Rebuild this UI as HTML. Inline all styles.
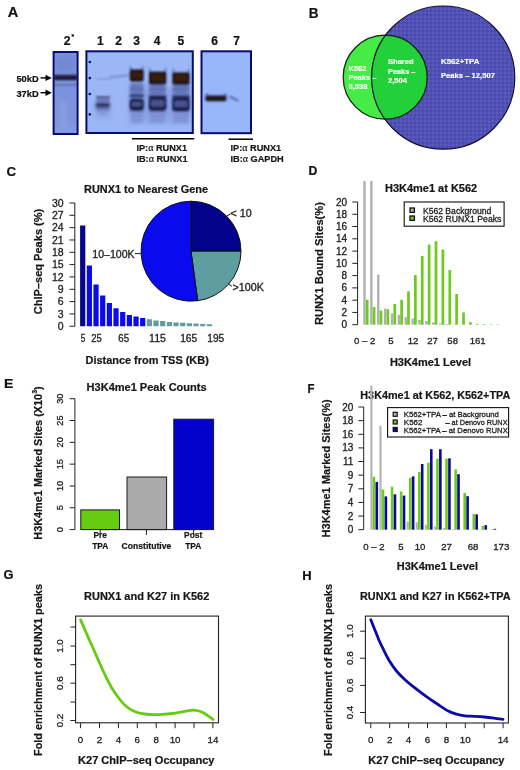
<!DOCTYPE html>
<html><head><meta charset="utf-8"><title>Figure</title>
<style>
html,body{margin:0;padding:0;background:#fff;}
body{width:520px;height:770px;overflow:hidden;}
svg{display:block;font-family:"Liberation Sans", sans-serif;will-change:transform;}
</style></head><body>
<svg width="520" height="770" viewBox="0 0 520 770">
<rect width="520" height="770" fill="#fff"/>
<text x="7.70" y="16.70" font-size="14.6" font-weight="bold" stroke="#111" stroke-width="0.2" text-anchor="start" fill="#111" textLength="10.60" lengthAdjust="spacingAndGlyphs">A</text>
<text x="63.80" y="45.00" font-size="12.2" font-weight="bold" stroke="#111" stroke-width="0.2" text-anchor="start" fill="#111">2</text>
<text x="71.40" y="39.20" font-size="6.5" font-weight="bold" stroke="#111" stroke-width="0.2" text-anchor="start" fill="#111">*</text>
<text x="100.40" y="45.20" font-size="12" font-weight="bold" stroke="#111" stroke-width="0.2" text-anchor="middle" fill="#111">1</text>
<text x="118.50" y="45.20" font-size="12" font-weight="bold" stroke="#111" stroke-width="0.2" text-anchor="middle" fill="#111">2</text>
<text x="136.50" y="45.20" font-size="12" font-weight="bold" stroke="#111" stroke-width="0.2" text-anchor="middle" fill="#111">3</text>
<text x="157.00" y="45.20" font-size="12" font-weight="bold" stroke="#111" stroke-width="0.2" text-anchor="middle" fill="#111">4</text>
<text x="180.80" y="45.20" font-size="12" font-weight="bold" stroke="#111" stroke-width="0.2" text-anchor="middle" fill="#111">5</text>
<text x="214.60" y="45.20" font-size="12" font-weight="bold" stroke="#111" stroke-width="0.2" text-anchor="middle" fill="#111">6</text>
<text x="236.50" y="45.20" font-size="12" font-weight="bold" stroke="#111" stroke-width="0.2" text-anchor="middle" fill="#111">7</text>
<text x="16.40" y="82.20" font-size="9.6" font-weight="bold" stroke="#111" stroke-width="0.2" text-anchor="start" fill="#111" textLength="22.20" lengthAdjust="spacingAndGlyphs">50kD</text>
<text x="16.40" y="96.70" font-size="9.6" font-weight="bold" stroke="#111" stroke-width="0.2" text-anchor="start" fill="#111" textLength="22.20" lengthAdjust="spacingAndGlyphs">37kD</text>
<line x1="40.50" y1="77.90" x2="47.00" y2="77.90" stroke="#000" stroke-width="1.4"/>
<path d="M45.5 74.70 L51.8 77.90 L45.5 81.10 Z" fill="#000"/>
<line x1="40.50" y1="92.70" x2="47.00" y2="92.70" stroke="#000" stroke-width="1.4"/>
<path d="M45.5 89.50 L51.8 92.70 L45.5 95.90 Z" fill="#000"/>
<defs><filter id="bl1" x="-20%" y="-50%" width="140%" height="200%"><feGaussianBlur stdDeviation="0.9"/></filter><filter id="bl2" x="-20%" y="-50%" width="140%" height="200%"><feGaussianBlur stdDeviation="1.6"/></filter><filter id="bl3" x="-20%" y="-20%" width="140%" height="140%"><feGaussianBlur stdDeviation="3"/></filter><clipPath id="cp2"><rect x="53.6" y="52" width="24" height="82"/></clipPath><clipPath id="cp15"><rect x="86.4" y="51.3" width="106.4" height="81.7"/></clipPath><clipPath id="cp67"><rect x="201.5" y="51.3" width="49.5" height="81.9"/></clipPath></defs>
<rect x="53.60" y="52.00" width="24.00" height="82.00" fill="#8199e0"/>
<g clip-path="url(#cp2)">
<g filter="url(#bl3)">
<rect x="54.00" y="53.00" width="23.00" height="20.00" fill="#7089d2"/>
<rect x="54.00" y="84.00" width="23.00" height="40.00" fill="#7a92dc"/>
<rect x="60.00" y="100.00" width="6.00" height="30.00" fill="#8aa0e6"/>
</g>
<g filter="url(#bl1)">
<rect x="53.60" y="75.20" width="24.00" height="5.00" fill="#1c1830"/>
<rect x="53.60" y="74.40" width="24.00" height="1.20" fill="#404070"/>
<rect x="53.60" y="83.80" width="24.00" height="2.00" fill="#5e6cb0"/>
</g></g>
<rect x="53.60" y="52.00" width="24.00" height="82.00" fill="none" stroke="#0a0a70" stroke-width="2"/>
<rect x="86.40" y="51.30" width="106.40" height="81.70" fill="#9cb7f6"/>
<g clip-path="url(#cp15)">
<g filter="url(#bl3)">
<rect x="95.00" y="100.00" width="16.00" height="18.00" fill="#8ea6e8"/>
<rect x="129.00" y="88.00" width="62.00" height="35.00" fill="#8aa2e6"/>
</g>
<circle cx="89.8" cy="62.0" r="1.3" fill="#14143a"/>
<circle cx="89.8" cy="78.1" r="1.3" fill="#14143a"/>
<circle cx="89.8" cy="94.0" r="1.3" fill="#14143a"/>
<circle cx="89.8" cy="114.4" r="1.3" fill="#14143a"/>
<g filter="url(#bl1)">
<rect x="96.50" y="78.30" width="13.00" height="1.30" fill="#8090d0"/>
<rect x="96.00" y="96.40" width="14.00" height="1.70" fill="#303a70"/>
<rect x="96.50" y="98.50" width="13.00" height="4.00" fill="#6a7ab8"/>
</g><g filter="url(#bl2)">
<rect x="95.5" y="103.0" width="14.5" height="4.6" rx="2" fill="#242a58"/>
<rect x="96.00" y="107.50" width="13.50" height="3.00" fill="#6474b8"/>
<rect x="97.00" y="112.00" width="11.00" height="2.00" fill="#8494d4"/>
</g><g filter="url(#bl1)">
<path d="M109 76.6 L129 74.2 L129 76.0 L109 78.2 Z" fill="#7585c8"/>
</g>
<g filter="url(#bl2)">
<rect x="130.00" y="83.00" width="13.50" height="30.00" fill="#6678bc"/>
<rect x="131.00" y="112.00" width="11.50" height="11.00" fill="#8093d6"/>
<rect x="148.90" y="83.00" width="16.80" height="30.00" fill="#6678bc"/>
<rect x="149.90" y="112.00" width="14.80" height="11.00" fill="#8093d6"/>
<rect x="172.40" y="83.00" width="16.90" height="30.00" fill="#6678bc"/>
<rect x="173.40" y="112.00" width="14.90" height="11.00" fill="#8093d6"/>
</g>
<g filter="url(#bl1)">
<path d="M130.0 71.6 L130.70000000000002 64.6 L131.70000000000002 71.6 Z" fill="#283064"/>
<path d="M141.7 71.6 L142.7 64.6 L143.4 71.6 Z" fill="#283064"/>
<rect x="129.8" y="69.6" width="13.799999999999983" height="12.0" rx="2.5" fill="#120e18"/>
<rect x="132.0" y="71.8" width="9.399999999999983" height="7.0" rx="1.5" fill="#3c1e10"/>
<rect x="130.30" y="88.40" width="12.80" height="1.40" fill="#5868a8"/>
<rect x="129.80" y="94.90" width="13.80" height="1.80" fill="#1a2252"/>
<rect x="129.8" y="99.0" width="13.799999999999983" height="11.200000000000003" rx="3" fill="#161c44"/>
<rect x="131.8" y="101.8" width="9.799999999999983" height="4.600000000000003" rx="1.5" fill="#46528c"/>
<rect x="131.80" y="115.00" width="9.80" height="1.40" fill="#7a8acc"/>
<path d="M149.2 73.8 L149.9 66.8 L150.9 73.8 Z" fill="#283064"/>
<path d="M164.29999999999998 73.8 L165.29999999999998 66.8 L166.0 73.8 Z" fill="#283064"/>
<rect x="149.0" y="71.8" width="17.19999999999999" height="12.400000000000006" rx="2.5" fill="#120e18"/>
<rect x="151.2" y="74.0" width="12.799999999999988" height="7.400000000000006" rx="1.5" fill="#3c1e10"/>
<rect x="149.50" y="88.40" width="16.20" height="1.40" fill="#5868a8"/>
<rect x="149.00" y="95.80" width="17.20" height="1.80" fill="#1a2252"/>
<rect x="149.0" y="97.0" width="17.19999999999999" height="13.599999999999994" rx="3" fill="#161c44"/>
<rect x="151.0" y="99.8" width="13.199999999999989" height="6.999999999999995" rx="1.5" fill="#46528c"/>
<rect x="151.00" y="115.00" width="13.20" height="1.40" fill="#7a8acc"/>
<path d="M172.6 74.4 L173.3 67.4 L174.3 74.4 Z" fill="#283064"/>
<path d="M187.6 74.4 L188.6 67.4 L189.3 74.4 Z" fill="#283064"/>
<rect x="172.4" y="72.4" width="17.099999999999994" height="12.199999999999989" rx="2.5" fill="#120e18"/>
<rect x="174.6" y="74.60000000000001" width="12.699999999999994" height="7.199999999999989" rx="1.5" fill="#3c1e10"/>
<rect x="172.90" y="88.40" width="16.10" height="1.40" fill="#5868a8"/>
<rect x="172.40" y="95.80" width="17.10" height="1.80" fill="#1a2252"/>
<rect x="172.4" y="97.6" width="17.099999999999994" height="13.400000000000006" rx="3" fill="#161c44"/>
<rect x="174.4" y="100.39999999999999" width="13.099999999999994" height="6.800000000000006" rx="1.5" fill="#46528c"/>
<rect x="174.40" y="115.00" width="13.10" height="1.40" fill="#7a8acc"/>
</g></g>
<rect x="86.40" y="51.30" width="106.40" height="81.70" fill="none" stroke="#0a0a70" stroke-width="2"/>
<rect x="201.50" y="51.30" width="49.50" height="81.90" fill="#98b6fa"/>
<g clip-path="url(#cp67)"><g filter="url(#bl1)">
<rect x="205.3" y="95.4" width="21.2" height="5.8" rx="2.5" fill="#141420"/>
<rect x="207.5" y="97.0" width="16.5" height="2.4" rx="1" fill="#2a1612"/>
<path d="M205.6 97 L206.2 93.4 L207.4 93.4 L207.6 97 Z" fill="#303a6c"/>
<path d="M224.2 97 L224.6 93.4 L225.8 93.4 L226.4 97 Z" fill="#303a6c"/>
<path d="M229.5 95.8 L238.5 100.2 L238.3 101.4 L229.3 97.0 Z" fill="#2a3870"/>
</g></g>
<rect x="201.50" y="51.30" width="49.50" height="81.90" fill="none" stroke="#0a0a70" stroke-width="2"/>
<line x1="132.00" y1="138.70" x2="194.20" y2="138.70" stroke="#000" stroke-width="1.5"/>
<line x1="228.50" y1="139.20" x2="253.00" y2="139.20" stroke="#000" stroke-width="1.5"/>
<text x="136.40" y="150.70" font-size="9.2" font-weight="bold" fill="#161616" stroke="#161616" stroke-width="0.2">IP:<tspan font-family="Liberation Serif" font-weight="normal" font-size="10">&#945;</tspan> RUNX1</text>
<text x="136.40" y="162.40" font-size="9.2" font-weight="bold" fill="#161616" stroke="#161616" stroke-width="0.2">IB:<tspan font-family="Liberation Serif" font-weight="normal" font-size="10">&#945;</tspan> RUNX1</text>
<text x="230.50" y="150.80" font-size="9.2" font-weight="bold" fill="#161616" stroke="#161616" stroke-width="0.2">IP:<tspan font-family="Liberation Serif" font-weight="normal" font-size="10">&#945;</tspan> RUNX1</text>
<text x="230.50" y="162.10" font-size="9.2" font-weight="bold" fill="#161616" stroke="#161616" stroke-width="0.2">IB:<tspan font-family="Liberation Serif" font-weight="normal" font-size="10">&#945;</tspan> GAPDH</text>
<text x="308.80" y="17.90" font-size="14.5" font-weight="bold" stroke="#111" stroke-width="0.2" text-anchor="start" fill="#111" textLength="9.80" lengthAdjust="spacingAndGlyphs">B</text>
<defs><pattern id="bgrid" width="4" height="4" patternUnits="userSpaceOnUse"><rect width="4" height="4" fill="#4a4aae"/><rect width="4" height="2" fill="#5252b6"/><rect width="2" height="4" fill="#5252b6"/><rect width="2" height="2" fill="#5a5abc"/></pattern><clipPath id="cpblue"><circle cx="443.2" cy="77.6" r="71.6"/></clipPath></defs>
<circle cx="443.2" cy="77.6" r="71.6" fill="url(#bgrid)"/>
<circle cx="385.2" cy="77.2" r="42.0" fill="#45ec45"/>
<circle cx="385.2" cy="77.2" r="42.0" fill="#24d03a" clip-path="url(#cpblue)"/>
<circle cx="443.2" cy="77.6" r="71.6" fill="none" stroke="#101030" stroke-width="1.2"/>
<circle cx="385.2" cy="77.2" r="42.0" fill="none" stroke="#102010" stroke-width="1.2"/>
<text x="348.50" y="70.90" font-size="7.8" font-weight="bold" stroke="#f4fff4" stroke-width="0.2" text-anchor="start" fill="#f4fff4" textLength="17.80" lengthAdjust="spacingAndGlyphs">K562</text>
<text x="348.50" y="80.00" font-size="7.8" font-weight="bold" stroke="#f4fff4" stroke-width="0.2" text-anchor="start" fill="#f4fff4" textLength="27.80" lengthAdjust="spacingAndGlyphs">Peaks –</text>
<text x="348.50" y="89.30" font-size="7.8" font-weight="bold" stroke="#f4fff4" stroke-width="0.2" text-anchor="start" fill="#f4fff4" textLength="19.00" lengthAdjust="spacingAndGlyphs">3,538</text>
<text x="388.00" y="64.30" font-size="7.8" font-weight="bold" stroke="#f4fff4" stroke-width="0.2" text-anchor="start" fill="#f4fff4" textLength="25.60" lengthAdjust="spacingAndGlyphs">Shared</text>
<text x="388.00" y="73.80" font-size="7.8" font-weight="bold" stroke="#f4fff4" stroke-width="0.2" text-anchor="start" fill="#f4fff4" textLength="27.40" lengthAdjust="spacingAndGlyphs">Peaks –</text>
<text x="388.00" y="82.70" font-size="7.8" font-weight="bold" stroke="#f4fff4" stroke-width="0.2" text-anchor="start" fill="#f4fff4" textLength="19.00" lengthAdjust="spacingAndGlyphs">2,504</text>
<text x="441.00" y="64.30" font-size="7.8" font-weight="bold" stroke="#f4fff4" stroke-width="0.2" text-anchor="start" fill="#f4fff4" textLength="38.40" lengthAdjust="spacingAndGlyphs">K562+TPA</text>
<text x="441.00" y="77.80" font-size="7.8" font-weight="bold" stroke="#f4fff4" stroke-width="0.2" text-anchor="start" fill="#f4fff4" textLength="54.00" lengthAdjust="spacingAndGlyphs">Peaks – 12,507</text>
<text x="6.40" y="176.40" font-size="13.5" font-weight="bold" stroke="#111" stroke-width="0.2" text-anchor="start" fill="#111" textLength="9.60" lengthAdjust="spacingAndGlyphs">C</text>
<text x="84.00" y="193.00" font-size="10.6" font-weight="bold" stroke="#161616" stroke-width="0.2" text-anchor="start" fill="#161616" textLength="124.00" lengthAdjust="spacingAndGlyphs">RUNX1 to Nearest Gene</text>
<line x1="74.80" y1="203.00" x2="74.80" y2="326.25" stroke="#222" stroke-width="1"/>
<line x1="69.50" y1="203.00" x2="74.80" y2="203.00" stroke="#222" stroke-width="1"/>
<text x="63.60" y="206.60" font-size="10.5" stroke="#222" stroke-width="0.3" text-anchor="end" fill="#222">30</text>
<line x1="69.50" y1="215.32" x2="74.80" y2="215.32" stroke="#222" stroke-width="1"/>
<text x="63.60" y="218.92" font-size="10.5" stroke="#222" stroke-width="0.3" text-anchor="end" fill="#222">27</text>
<line x1="69.50" y1="227.65" x2="74.80" y2="227.65" stroke="#222" stroke-width="1"/>
<text x="63.60" y="231.25" font-size="10.5" stroke="#222" stroke-width="0.3" text-anchor="end" fill="#222">24</text>
<line x1="69.50" y1="239.97" x2="74.80" y2="239.97" stroke="#222" stroke-width="1"/>
<text x="63.60" y="243.57" font-size="10.5" stroke="#222" stroke-width="0.3" text-anchor="end" fill="#222">21</text>
<line x1="69.50" y1="252.30" x2="74.80" y2="252.30" stroke="#222" stroke-width="1"/>
<text x="63.60" y="255.90" font-size="10.5" stroke="#222" stroke-width="0.3" text-anchor="end" fill="#222">18</text>
<line x1="69.50" y1="264.62" x2="74.80" y2="264.62" stroke="#222" stroke-width="1"/>
<text x="63.60" y="268.23" font-size="10.5" stroke="#222" stroke-width="0.3" text-anchor="end" fill="#222">15</text>
<line x1="69.50" y1="276.95" x2="74.80" y2="276.95" stroke="#222" stroke-width="1"/>
<text x="63.60" y="280.55" font-size="10.5" stroke="#222" stroke-width="0.3" text-anchor="end" fill="#222">12</text>
<line x1="69.50" y1="289.27" x2="74.80" y2="289.27" stroke="#222" stroke-width="1"/>
<text x="63.60" y="292.88" font-size="10.5" stroke="#222" stroke-width="0.3" text-anchor="end" fill="#222">9</text>
<line x1="69.50" y1="301.60" x2="74.80" y2="301.60" stroke="#222" stroke-width="1"/>
<text x="63.60" y="305.20" font-size="10.5" stroke="#222" stroke-width="0.3" text-anchor="end" fill="#222">6</text>
<line x1="69.50" y1="313.93" x2="74.80" y2="313.93" stroke="#222" stroke-width="1"/>
<text x="63.60" y="317.53" font-size="10.5" stroke="#222" stroke-width="0.3" text-anchor="end" fill="#222">3</text>
<line x1="69.50" y1="326.25" x2="74.80" y2="326.25" stroke="#222" stroke-width="1"/>
<text x="63.60" y="329.85" font-size="10.5" stroke="#222" stroke-width="0.3" text-anchor="end" fill="#222">0</text>
<text transform="translate(42.00,261.50) rotate(-90)" x="0" y="0" font-size="10.6" font-weight="bold" stroke="#161616" stroke-width="0.2" text-anchor="middle" fill="#161616" textLength="105.50" lengthAdjust="spacingAndGlyphs">ChIP–seq Peaks (%)</text>
<rect x="80.10" y="225.50" width="5.20" height="100.75" fill="#05058f"/>
<rect x="86.77" y="265.50" width="5.20" height="60.75" fill="#0a0aea"/>
<rect x="93.43" y="284.50" width="5.20" height="41.75" fill="#0a0aea"/>
<rect x="100.10" y="295.50" width="5.20" height="30.75" fill="#0a0aea"/>
<rect x="106.77" y="303.00" width="5.20" height="23.25" fill="#0a0aea"/>
<rect x="113.44" y="308.25" width="5.20" height="18.00" fill="#0a0aea"/>
<rect x="120.10" y="312.00" width="5.20" height="14.25" fill="#0a0aea"/>
<rect x="126.77" y="315.00" width="5.20" height="11.25" fill="#0a0aea"/>
<rect x="133.44" y="316.50" width="5.20" height="9.75" fill="#0a0aea"/>
<rect x="140.10" y="318.00" width="5.20" height="8.25" fill="#0a0aea"/>
<rect x="146.77" y="319.25" width="5.20" height="7.00" fill="#5f9ea0"/>
<rect x="153.44" y="320.50" width="5.20" height="5.75" fill="#5f9ea0"/>
<rect x="160.10" y="321.00" width="5.20" height="5.25" fill="#5f9ea0"/>
<rect x="166.77" y="322.00" width="5.20" height="4.25" fill="#5f9ea0"/>
<rect x="173.44" y="322.50" width="5.20" height="3.75" fill="#5f9ea0"/>
<rect x="180.10" y="322.75" width="5.20" height="3.50" fill="#5f9ea0"/>
<rect x="186.77" y="323.25" width="5.20" height="3.00" fill="#5f9ea0"/>
<rect x="193.44" y="323.50" width="5.20" height="2.75" fill="#5f9ea0"/>
<rect x="200.11" y="324.00" width="5.20" height="2.25" fill="#5f9ea0"/>
<rect x="206.77" y="324.25" width="5.20" height="2.00" fill="#5f9ea0"/>
<text x="83.05" y="341.60" font-size="10.2" stroke="#222" stroke-width="0.3" text-anchor="middle" fill="#222" textLength="4.60" lengthAdjust="spacingAndGlyphs">5</text>
<text x="96.40" y="341.60" font-size="10.2" stroke="#222" stroke-width="0.3" text-anchor="middle" fill="#222" textLength="10.50" lengthAdjust="spacingAndGlyphs">25</text>
<text x="123.75" y="341.60" font-size="10.2" stroke="#222" stroke-width="0.3" text-anchor="middle" fill="#222" textLength="10.80" lengthAdjust="spacingAndGlyphs">65</text>
<text x="157.55" y="341.60" font-size="10.2" stroke="#222" stroke-width="0.3" text-anchor="middle" fill="#222" textLength="17.00" lengthAdjust="spacingAndGlyphs">115</text>
<text x="188.65" y="341.60" font-size="10.2" stroke="#222" stroke-width="0.3" text-anchor="middle" fill="#222" textLength="17.00" lengthAdjust="spacingAndGlyphs">165</text>
<text x="215.75" y="341.60" font-size="10.2" stroke="#222" stroke-width="0.3" text-anchor="middle" fill="#222" textLength="17.00" lengthAdjust="spacingAndGlyphs">195</text>
<text x="85.50" y="363.70" font-size="11.0" font-weight="bold" stroke="#161616" stroke-width="0.2" text-anchor="start" fill="#161616" textLength="123.30" lengthAdjust="spacingAndGlyphs">Distance from TSS (KB)</text>
<path d="M191.0 251.2 L191.00 201.20 A50.0 50.0 0 0 1 241.00 251.20 Z" fill="#02028c" stroke="#111" stroke-width="1"/>
<path d="M191.0 251.2 L241.00 251.20 A50.0 50.0 0 0 1 197.70 300.75 Z" fill="#5f9ea0" stroke="#111" stroke-width="1"/>
<path d="M191.0 251.2 L197.70 300.75 A50.0 50.0 0 1 1 191.00 201.20 Z" fill="#0a0aee" stroke="#111" stroke-width="1"/>
<line x1="227.00" y1="215.80" x2="230.60" y2="213.90" stroke="#222" stroke-width="1"/>
<line x1="134.80" y1="253.60" x2="141.00" y2="253.60" stroke="#222" stroke-width="1"/>
<line x1="228.00" y1="283.70" x2="232.00" y2="286.30" stroke="#222" stroke-width="1"/>
<text x="230.60" y="216.80" font-size="10.2" stroke="#222" stroke-width="0.3" text-anchor="start" fill="#222" textLength="21.20" lengthAdjust="spacingAndGlyphs">&lt; 10</text>
<text x="92.30" y="258.20" font-size="10.2" stroke="#222" stroke-width="0.3" text-anchor="start" fill="#222" textLength="42.30" lengthAdjust="spacingAndGlyphs">10–100K</text>
<text x="232.60" y="291.00" font-size="10.2" stroke="#222" stroke-width="0.3" text-anchor="start" fill="#222" textLength="31.40" lengthAdjust="spacingAndGlyphs">&gt;100K</text>
<text x="308.40" y="174.90" font-size="13" font-weight="bold" stroke="#111" stroke-width="0.2" text-anchor="start" fill="#111" textLength="8.80" lengthAdjust="spacingAndGlyphs">D</text>
<text x="385.00" y="192.30" font-size="10.6" font-weight="bold" stroke="#161616" stroke-width="0.2" text-anchor="start" fill="#161616" textLength="92.20" lengthAdjust="spacingAndGlyphs">H3K4me1 at K562</text>
<line x1="357.60" y1="202.00" x2="357.60" y2="324.70" stroke="#222" stroke-width="1"/>
<line x1="352.30" y1="202.00" x2="357.60" y2="202.00" stroke="#222" stroke-width="1"/>
<text x="347.00" y="205.50" font-size="10.0" stroke="#222" stroke-width="0.3" text-anchor="end" fill="#222">20</text>
<line x1="352.30" y1="214.27" x2="357.60" y2="214.27" stroke="#222" stroke-width="1"/>
<text x="347.00" y="217.77" font-size="10.0" stroke="#222" stroke-width="0.3" text-anchor="end" fill="#222">18</text>
<line x1="352.30" y1="226.54" x2="357.60" y2="226.54" stroke="#222" stroke-width="1"/>
<text x="347.00" y="230.04" font-size="10.0" stroke="#222" stroke-width="0.3" text-anchor="end" fill="#222">16</text>
<line x1="352.30" y1="238.81" x2="357.60" y2="238.81" stroke="#222" stroke-width="1"/>
<text x="347.00" y="242.31" font-size="10.0" stroke="#222" stroke-width="0.3" text-anchor="end" fill="#222">14</text>
<line x1="352.30" y1="251.08" x2="357.60" y2="251.08" stroke="#222" stroke-width="1"/>
<text x="347.00" y="254.58" font-size="10.0" stroke="#222" stroke-width="0.3" text-anchor="end" fill="#222">12</text>
<line x1="352.30" y1="263.35" x2="357.60" y2="263.35" stroke="#222" stroke-width="1"/>
<text x="347.00" y="266.85" font-size="10.0" stroke="#222" stroke-width="0.3" text-anchor="end" fill="#222">10</text>
<line x1="352.30" y1="275.62" x2="357.60" y2="275.62" stroke="#222" stroke-width="1"/>
<text x="347.00" y="279.12" font-size="10.0" stroke="#222" stroke-width="0.3" text-anchor="end" fill="#222">8</text>
<line x1="352.30" y1="287.89" x2="357.60" y2="287.89" stroke="#222" stroke-width="1"/>
<text x="347.00" y="291.39" font-size="10.0" stroke="#222" stroke-width="0.3" text-anchor="end" fill="#222">6</text>
<line x1="352.30" y1="300.16" x2="357.60" y2="300.16" stroke="#222" stroke-width="1"/>
<text x="347.00" y="303.66" font-size="10.0" stroke="#222" stroke-width="0.3" text-anchor="end" fill="#222">4</text>
<line x1="352.30" y1="312.43" x2="357.60" y2="312.43" stroke="#222" stroke-width="1"/>
<text x="347.00" y="315.93" font-size="10.0" stroke="#222" stroke-width="0.3" text-anchor="end" fill="#222">2</text>
<line x1="352.30" y1="324.70" x2="357.60" y2="324.70" stroke="#222" stroke-width="1"/>
<text x="347.00" y="328.20" font-size="10.0" stroke="#222" stroke-width="0.3" text-anchor="end" fill="#222">0</text>
<text transform="translate(323.30,263.60) rotate(-90)" x="0" y="0" font-size="10.3" font-weight="bold" stroke="#161616" stroke-width="0.2" text-anchor="middle" fill="#161616" textLength="123.00" lengthAdjust="spacingAndGlyphs">RUNX1 Bound Sites(%)</text>
<rect x="363.30" y="181.00" width="2.40" height="143.70" fill="#b0b0b0"/>
<rect x="365.85" y="299.79" width="2.70" height="24.91" fill="#6ccc1c"/>
<rect x="370.18" y="181.00" width="2.40" height="143.70" fill="#b0b0b0"/>
<rect x="372.73" y="307.09" width="2.70" height="17.61" fill="#6ccc1c"/>
<rect x="377.06" y="274.58" width="2.40" height="50.12" fill="#b0b0b0"/>
<rect x="379.61" y="310.53" width="2.70" height="14.17" fill="#6ccc1c"/>
<rect x="383.94" y="308.56" width="2.40" height="16.14" fill="#b0b0b0"/>
<rect x="386.49" y="309.24" width="2.70" height="15.46" fill="#6ccc1c"/>
<rect x="390.82" y="313.41" width="2.40" height="11.29" fill="#b0b0b0"/>
<rect x="393.37" y="304.09" width="2.70" height="20.61" fill="#6ccc1c"/>
<rect x="397.70" y="314.88" width="2.40" height="9.82" fill="#b0b0b0"/>
<rect x="400.25" y="299.79" width="2.70" height="24.91" fill="#6ccc1c"/>
<rect x="404.58" y="317.15" width="2.40" height="7.55" fill="#b0b0b0"/>
<rect x="407.13" y="291.33" width="2.70" height="33.37" fill="#6ccc1c"/>
<rect x="411.46" y="318.69" width="2.40" height="6.01" fill="#b0b0b0"/>
<rect x="414.01" y="275.07" width="2.70" height="49.63" fill="#6ccc1c"/>
<rect x="418.34" y="319.91" width="2.40" height="4.79" fill="#b0b0b0"/>
<rect x="420.89" y="255.99" width="2.70" height="68.71" fill="#6ccc1c"/>
<rect x="425.22" y="321.02" width="2.40" height="3.68" fill="#b0b0b0"/>
<rect x="427.77" y="244.58" width="2.70" height="80.12" fill="#6ccc1c"/>
<rect x="432.10" y="322.31" width="2.40" height="2.39" fill="#b0b0b0"/>
<rect x="434.65" y="241.26" width="2.70" height="83.44" fill="#6ccc1c"/>
<rect x="438.98" y="323.47" width="2.40" height="1.23" fill="#b0b0b0"/>
<rect x="441.53" y="249.48" width="2.70" height="75.22" fill="#6ccc1c"/>
<rect x="445.86" y="324.09" width="2.40" height="0.61" fill="#b0b0b0"/>
<rect x="448.41" y="270.10" width="2.70" height="54.60" fill="#6ccc1c"/>
<rect x="452.74" y="324.39" width="2.40" height="0.31" fill="#b0b0b0"/>
<rect x="455.29" y="294.02" width="2.70" height="30.67" fill="#6ccc1c"/>
<rect x="459.62" y="324.52" width="2.40" height="0.18" fill="#b0b0b0"/>
<rect x="462.17" y="312.43" width="2.70" height="12.27" fill="#6ccc1c"/>
<rect x="466.50" y="324.58" width="2.40" height="0.12" fill="#b0b0b0"/>
<rect x="469.05" y="322.25" width="2.70" height="2.45" fill="#6ccc1c"/>
<rect x="475.93" y="323.96" width="2.70" height="0.74" fill="#6ccc1c"/>
<rect x="482.81" y="324.09" width="2.70" height="0.61" fill="#6ccc1c"/>
<rect x="489.69" y="324.21" width="2.70" height="0.49" fill="#6ccc1c"/>
<rect x="496.57" y="324.33" width="2.70" height="0.37" fill="#6ccc1c"/>
<rect x="404.20" y="202.00" width="99.90" height="24.20" fill="#fff" stroke="#111" stroke-width="1.1"/>
<rect x="410.00" y="208.00" width="4.40" height="4.40" fill="#b0b0b0" stroke="#111" stroke-width="1.3"/>
<rect x="410.00" y="216.00" width="4.40" height="4.40" fill="#6ccc1c" stroke="#111" stroke-width="1.3"/>
<text x="422.90" y="213.80" font-size="8.8" stroke="#222" stroke-width="0.3" text-anchor="start" fill="#222" textLength="68.40" lengthAdjust="spacingAndGlyphs">K562 Background</text>
<text x="422.90" y="221.80" font-size="8.8" stroke="#222" stroke-width="0.3" text-anchor="start" fill="#222" textLength="78.50" lengthAdjust="spacingAndGlyphs">K562 RUNX1 Peaks</text>
<text x="364.60" y="343.90" font-size="9.6" stroke="#222" stroke-width="0.3" text-anchor="middle" fill="#222">0 – 2</text>
<text x="390.90" y="343.90" font-size="9.6" stroke="#222" stroke-width="0.3" text-anchor="middle" fill="#222">5</text>
<text x="413.00" y="343.90" font-size="9.6" stroke="#222" stroke-width="0.3" text-anchor="middle" fill="#222">12</text>
<text x="432.50" y="343.90" font-size="9.6" stroke="#222" stroke-width="0.3" text-anchor="middle" fill="#222">27</text>
<text x="452.70" y="343.90" font-size="9.6" stroke="#222" stroke-width="0.3" text-anchor="middle" fill="#222">58</text>
<text x="477.70" y="343.90" font-size="9.6" stroke="#222" stroke-width="0.3" text-anchor="middle" fill="#222">161</text>
<text x="389.90" y="365.70" font-size="10.6" font-weight="bold" stroke="#161616" stroke-width="0.2" text-anchor="start" fill="#161616" textLength="81.20" lengthAdjust="spacingAndGlyphs">H3K4me1 Level</text>
<text x="4.00" y="388.40" font-size="12.8" font-weight="bold" stroke="#111" stroke-width="0.2" text-anchor="start" fill="#111" textLength="9.40" lengthAdjust="spacingAndGlyphs">E</text>
<text x="86.60" y="390.60" font-size="10.6" font-weight="bold" stroke="#161616" stroke-width="0.2" text-anchor="start" fill="#161616" textLength="120.00" lengthAdjust="spacingAndGlyphs">H3K4me1 Peak Counts</text>
<line x1="74.90" y1="398.70" x2="74.90" y2="529.60" stroke="#222" stroke-width="1"/>
<line x1="69.70" y1="398.70" x2="74.90" y2="398.70" stroke="#222" stroke-width="1"/>
<text transform="translate(62.80,398.70) rotate(-90)" x="0" y="0" font-size="9.2" stroke="#222" stroke-width="0.3" text-anchor="middle" fill="#222">30</text>
<line x1="69.70" y1="420.52" x2="74.90" y2="420.52" stroke="#222" stroke-width="1"/>
<text transform="translate(62.80,420.52) rotate(-90)" x="0" y="0" font-size="9.2" stroke="#222" stroke-width="0.3" text-anchor="middle" fill="#222">25</text>
<line x1="69.70" y1="442.33" x2="74.90" y2="442.33" stroke="#222" stroke-width="1"/>
<text transform="translate(62.80,442.33) rotate(-90)" x="0" y="0" font-size="9.2" stroke="#222" stroke-width="0.3" text-anchor="middle" fill="#222">20</text>
<line x1="69.70" y1="464.15" x2="74.90" y2="464.15" stroke="#222" stroke-width="1"/>
<text transform="translate(62.80,464.15) rotate(-90)" x="0" y="0" font-size="9.2" stroke="#222" stroke-width="0.3" text-anchor="middle" fill="#222">15</text>
<line x1="69.70" y1="485.97" x2="74.90" y2="485.97" stroke="#222" stroke-width="1"/>
<text transform="translate(62.80,485.97) rotate(-90)" x="0" y="0" font-size="9.2" stroke="#222" stroke-width="0.3" text-anchor="middle" fill="#222">10</text>
<line x1="69.70" y1="507.78" x2="74.90" y2="507.78" stroke="#222" stroke-width="1"/>
<text transform="translate(62.80,507.78) rotate(-90)" x="0" y="0" font-size="9.2" stroke="#222" stroke-width="0.3" text-anchor="middle" fill="#222">5</text>
<line x1="69.70" y1="529.60" x2="74.90" y2="529.60" stroke="#222" stroke-width="1"/>
<text transform="translate(62.80,529.60) rotate(-90)" x="0" y="0" font-size="9.2" stroke="#222" stroke-width="0.3" text-anchor="middle" fill="#222">0</text>
<text transform="translate(41.6,463.0) rotate(-90)" x="0" y="0" font-size="10.9" font-weight="bold" text-anchor="middle" fill="#161616" stroke="#161616" stroke-width="0.2">H3K4me1 Marked Sites (X10<tspan font-size="7" dy="-4.5">3</tspan><tspan dy="4.5">)</tspan></text>
<rect x="80.80" y="509.90" width="38.70" height="19.70" fill="#66cc11" stroke="#1a1a1a" stroke-width="1"/>
<rect x="127.00" y="477.00" width="39.60" height="52.60" fill="#aaaaaa" stroke="#1a1a1a" stroke-width="1"/>
<rect x="173.80" y="419.20" width="39.80" height="110.40" fill="#0202cc" stroke="#1a1a1a" stroke-width="1"/>
<line x1="100.00" y1="529.60" x2="193.70" y2="529.60" stroke="#1a1a1a" stroke-width="1"/>
<line x1="100.20" y1="529.60" x2="100.20" y2="535.00" stroke="#222" stroke-width="1"/>
<line x1="146.40" y1="529.60" x2="146.40" y2="535.00" stroke="#222" stroke-width="1"/>
<line x1="193.70" y1="529.60" x2="193.70" y2="535.00" stroke="#222" stroke-width="1"/>
<text x="100.20" y="537.90" font-size="8.4" font-weight="bold" stroke="#161616" stroke-width="0.2" text-anchor="middle" fill="#161616">Pre</text>
<text x="100.20" y="548.90" font-size="8.4" font-weight="bold" stroke="#161616" stroke-width="0.2" text-anchor="middle" fill="#161616">TPA</text>
<text x="146.40" y="548.90" font-size="8.4" font-weight="bold" stroke="#161616" stroke-width="0.2" text-anchor="middle" fill="#161616" textLength="49.70" lengthAdjust="spacingAndGlyphs">Constitutive</text>
<text x="193.20" y="537.90" font-size="8.4" font-weight="bold" stroke="#161616" stroke-width="0.2" text-anchor="middle" fill="#161616">Post</text>
<text x="193.20" y="548.90" font-size="8.4" font-weight="bold" stroke="#161616" stroke-width="0.2" text-anchor="middle" fill="#161616">TPA</text>
<text x="307.40" y="392.60" font-size="12.6" font-weight="bold" stroke="#111" stroke-width="0.2" text-anchor="start" fill="#111" textLength="7.00" lengthAdjust="spacingAndGlyphs">F</text>
<text x="360.30" y="398.60" font-size="10.6" font-weight="bold" stroke="#161616" stroke-width="0.2" text-anchor="start" fill="#161616" textLength="150.00" lengthAdjust="spacingAndGlyphs">H3K4me1 at K562, K562+TPA</text>
<line x1="363.70" y1="407.00" x2="363.70" y2="529.70" stroke="#222" stroke-width="1"/>
<line x1="358.40" y1="407.00" x2="363.70" y2="407.00" stroke="#222" stroke-width="1"/>
<text x="353.40" y="410.50" font-size="10.0" stroke="#222" stroke-width="0.3" text-anchor="end" fill="#222">20</text>
<line x1="358.40" y1="420.63" x2="363.70" y2="420.63" stroke="#222" stroke-width="1"/>
<text x="353.40" y="424.13" font-size="10.0" stroke="#222" stroke-width="0.3" text-anchor="end" fill="#222">18</text>
<line x1="358.40" y1="434.27" x2="363.70" y2="434.27" stroke="#222" stroke-width="1"/>
<text x="353.40" y="437.77" font-size="10.0" stroke="#222" stroke-width="0.3" text-anchor="end" fill="#222">16</text>
<line x1="358.40" y1="447.90" x2="363.70" y2="447.90" stroke="#222" stroke-width="1"/>
<text x="353.40" y="451.40" font-size="10.0" stroke="#222" stroke-width="0.3" text-anchor="end" fill="#222">13</text>
<line x1="358.40" y1="461.53" x2="363.70" y2="461.53" stroke="#222" stroke-width="1"/>
<text x="353.40" y="465.03" font-size="10.0" stroke="#222" stroke-width="0.3" text-anchor="end" fill="#222">11</text>
<line x1="358.40" y1="475.17" x2="363.70" y2="475.17" stroke="#222" stroke-width="1"/>
<text x="353.40" y="478.67" font-size="10.0" stroke="#222" stroke-width="0.3" text-anchor="end" fill="#222">9</text>
<line x1="358.40" y1="488.80" x2="363.70" y2="488.80" stroke="#222" stroke-width="1"/>
<text x="353.40" y="492.30" font-size="10.0" stroke="#222" stroke-width="0.3" text-anchor="end" fill="#222">7</text>
<line x1="358.40" y1="502.43" x2="363.70" y2="502.43" stroke="#222" stroke-width="1"/>
<text x="353.40" y="505.93" font-size="10.0" stroke="#222" stroke-width="0.3" text-anchor="end" fill="#222">4</text>
<line x1="358.40" y1="516.07" x2="363.70" y2="516.07" stroke="#222" stroke-width="1"/>
<text x="353.40" y="519.57" font-size="10.0" stroke="#222" stroke-width="0.3" text-anchor="end" fill="#222">2</text>
<line x1="358.40" y1="529.70" x2="363.70" y2="529.70" stroke="#222" stroke-width="1"/>
<text x="353.40" y="533.20" font-size="10.0" stroke="#222" stroke-width="0.3" text-anchor="end" fill="#222">0</text>
<text transform="translate(330.00,468.40) rotate(-90)" x="0" y="0" font-size="10.3" font-weight="bold" stroke="#161616" stroke-width="0.2" text-anchor="middle" fill="#161616" textLength="138.00" lengthAdjust="spacingAndGlyphs">H3K4me1 Marked Sites(%)</text>
<rect x="370.30" y="385.60" width="2.20" height="144.10" fill="#b4b4b4"/>
<rect x="372.60" y="476.70" width="2.60" height="53.00" fill="#6ccc1c"/>
<rect x="375.50" y="481.90" width="2.60" height="47.80" fill="#0a0a9a"/>
<rect x="379.38" y="425.70" width="2.20" height="104.00" fill="#b4b4b4"/>
<rect x="381.68" y="489.60" width="2.60" height="40.10" fill="#6ccc1c"/>
<rect x="384.58" y="496.40" width="2.60" height="33.30" fill="#0a0a9a"/>
<rect x="390.76" y="486.70" width="2.60" height="43.00" fill="#6ccc1c"/>
<rect x="393.66" y="494.30" width="2.60" height="35.40" fill="#0a0a9a"/>
<rect x="399.84" y="491.50" width="2.60" height="38.20" fill="#6ccc1c"/>
<rect x="402.74" y="495.60" width="2.60" height="34.10" fill="#0a0a9a"/>
<rect x="406.62" y="521.50" width="2.20" height="8.20" fill="#b4b4b4"/>
<rect x="408.92" y="477.80" width="2.60" height="51.90" fill="#6ccc1c"/>
<rect x="411.82" y="476.40" width="2.60" height="53.30" fill="#0a0a9a"/>
<rect x="415.70" y="522.30" width="2.20" height="7.40" fill="#b4b4b4"/>
<rect x="418.00" y="472.00" width="2.60" height="57.70" fill="#6ccc1c"/>
<rect x="420.90" y="464.00" width="2.60" height="65.70" fill="#0a0a9a"/>
<rect x="424.78" y="524.60" width="2.20" height="5.10" fill="#b4b4b4"/>
<rect x="427.08" y="462.70" width="2.60" height="67.00" fill="#6ccc1c"/>
<rect x="429.98" y="449.20" width="2.60" height="80.50" fill="#0a0a9a"/>
<rect x="433.86" y="526.50" width="2.20" height="3.20" fill="#b4b4b4"/>
<rect x="436.16" y="458.70" width="2.60" height="71.00" fill="#6ccc1c"/>
<rect x="439.06" y="449.20" width="2.60" height="80.50" fill="#0a0a9a"/>
<rect x="442.94" y="528.00" width="2.20" height="1.70" fill="#b4b4b4"/>
<rect x="445.24" y="458.70" width="2.60" height="71.00" fill="#6ccc1c"/>
<rect x="448.14" y="458.30" width="2.60" height="71.40" fill="#0a0a9a"/>
<rect x="452.02" y="529.00" width="2.20" height="0.70" fill="#b4b4b4"/>
<rect x="454.32" y="469.40" width="2.60" height="60.30" fill="#6ccc1c"/>
<rect x="457.22" y="474.20" width="2.60" height="55.50" fill="#0a0a9a"/>
<rect x="463.40" y="492.90" width="2.60" height="36.80" fill="#6ccc1c"/>
<rect x="466.30" y="496.20" width="2.60" height="33.50" fill="#0a0a9a"/>
<rect x="472.48" y="514.00" width="2.60" height="15.70" fill="#6ccc1c"/>
<rect x="475.38" y="514.40" width="2.60" height="15.30" fill="#0a0a9a"/>
<rect x="481.56" y="526.00" width="2.60" height="3.70" fill="#6ccc1c"/>
<rect x="484.46" y="525.20" width="2.60" height="4.50" fill="#0a0a9a"/>
<rect x="490.64" y="529.20" width="2.60" height="0.50" fill="#6ccc1c"/>
<rect x="493.54" y="528.80" width="2.60" height="0.90" fill="#0a0a9a"/>
<rect x="387.60" y="407.60" width="121.00" height="29.40" fill="#fff" stroke="#111" stroke-width="1.1"/>
<rect x="393.20" y="412.30" width="4.00" height="4.00" fill="#b4b4b4" stroke="#111" stroke-width="1.2"/>
<rect x="393.20" y="420.00" width="4.00" height="4.00" fill="#6ccc1c" stroke="#111" stroke-width="1.2"/>
<rect x="393.20" y="427.50" width="4.00" height="4.00" fill="#0a0a9a" stroke="#111" stroke-width="1.2"/>
<text x="403.80" y="417.20" font-size="8.0" stroke="#222" stroke-width="0.3" text-anchor="start" fill="#222" textLength="95.00" lengthAdjust="spacingAndGlyphs">K562+TPA – at Background</text>
<text x="403.80" y="425.00" font-size="8.0" stroke="#222" stroke-width="0.3" text-anchor="start" fill="#222">K562</text>
<text x="445.50" y="425.00" font-size="8.0" stroke="#222" stroke-width="0.3" text-anchor="start" fill="#222" textLength="62.00" lengthAdjust="spacingAndGlyphs">– at Denovo RUNX</text>
<text x="403.80" y="432.60" font-size="8.0" stroke="#222" stroke-width="0.3" text-anchor="start" fill="#222" textLength="104.00" lengthAdjust="spacingAndGlyphs">K562+TPA – at Denovo RUNX</text>
<text x="373.80" y="549.50" font-size="9.6" stroke="#222" stroke-width="0.3" text-anchor="middle" fill="#222">0 – 2</text>
<text x="401.00" y="549.50" font-size="9.6" stroke="#222" stroke-width="0.3" text-anchor="middle" fill="#222">5</text>
<text x="420.00" y="549.50" font-size="9.6" stroke="#222" stroke-width="0.3" text-anchor="middle" fill="#222">10</text>
<text x="446.60" y="549.50" font-size="9.6" stroke="#222" stroke-width="0.3" text-anchor="middle" fill="#222">27</text>
<text x="473.00" y="549.50" font-size="9.6" stroke="#222" stroke-width="0.3" text-anchor="middle" fill="#222">68</text>
<text x="501.30" y="549.50" font-size="9.6" stroke="#222" stroke-width="0.3" text-anchor="middle" fill="#222">173</text>
<text x="396.70" y="570.20" font-size="10.6" font-weight="bold" stroke="#161616" stroke-width="0.2" text-anchor="start" fill="#161616" textLength="81.30" lengthAdjust="spacingAndGlyphs">H3K4me1 Level</text>
<text x="3.60" y="579.40" font-size="13" font-weight="bold" stroke="#111" stroke-width="0.2" text-anchor="start" fill="#111" textLength="10.00" lengthAdjust="spacingAndGlyphs">G</text>
<text x="84.00" y="599.60" font-size="10.5" font-weight="bold" stroke="#161616" stroke-width="0.2" text-anchor="start" fill="#161616" textLength="125.30" lengthAdjust="spacingAndGlyphs">RUNX1 and K27 in K562</text>
<rect x="75.60" y="616.10" width="142.90" height="106.70" fill="none" stroke="#222" stroke-width="1.1"/>
<line x1="70.40" y1="627.00" x2="75.60" y2="627.00" stroke="#222" stroke-width="1"/>
<line x1="70.40" y1="646.00" x2="75.60" y2="646.00" stroke="#222" stroke-width="1"/>
<text transform="translate(62.50,646.00) rotate(-90)" x="0" y="0" font-size="9.8" stroke="#222" stroke-width="0.3" text-anchor="middle" fill="#222">1.0</text>
<line x1="70.40" y1="664.70" x2="75.60" y2="664.70" stroke="#222" stroke-width="1"/>
<line x1="70.40" y1="683.20" x2="75.60" y2="683.20" stroke="#222" stroke-width="1"/>
<text transform="translate(62.50,683.20) rotate(-90)" x="0" y="0" font-size="9.8" stroke="#222" stroke-width="0.3" text-anchor="middle" fill="#222">0.6</text>
<line x1="70.40" y1="702.00" x2="75.60" y2="702.00" stroke="#222" stroke-width="1"/>
<line x1="70.40" y1="720.50" x2="75.60" y2="720.50" stroke="#222" stroke-width="1"/>
<text transform="translate(62.50,720.50) rotate(-90)" x="0" y="0" font-size="9.8" stroke="#222" stroke-width="0.3" text-anchor="middle" fill="#222">0.2</text>
<line x1="80.60" y1="722.90" x2="80.60" y2="728.20" stroke="#222" stroke-width="1"/>
<text x="80.60" y="742.60" font-size="9.8" stroke="#222" stroke-width="0.3" text-anchor="middle" fill="#222">0</text>
<line x1="99.50" y1="722.90" x2="99.50" y2="728.20" stroke="#222" stroke-width="1"/>
<text x="99.50" y="742.60" font-size="9.8" stroke="#222" stroke-width="0.3" text-anchor="middle" fill="#222">2</text>
<line x1="118.40" y1="722.90" x2="118.40" y2="728.20" stroke="#222" stroke-width="1"/>
<text x="118.40" y="742.60" font-size="9.8" stroke="#222" stroke-width="0.3" text-anchor="middle" fill="#222">4</text>
<line x1="137.30" y1="722.90" x2="137.30" y2="728.20" stroke="#222" stroke-width="1"/>
<text x="137.30" y="742.60" font-size="9.8" stroke="#222" stroke-width="0.3" text-anchor="middle" fill="#222">6</text>
<line x1="156.20" y1="722.90" x2="156.20" y2="728.20" stroke="#222" stroke-width="1"/>
<text x="156.20" y="742.60" font-size="9.8" stroke="#222" stroke-width="0.3" text-anchor="middle" fill="#222">8</text>
<line x1="175.10" y1="722.90" x2="175.10" y2="728.20" stroke="#222" stroke-width="1"/>
<text x="175.10" y="742.60" font-size="9.8" stroke="#222" stroke-width="0.3" text-anchor="middle" fill="#222">10</text>
<line x1="194.00" y1="722.90" x2="194.00" y2="728.20" stroke="#222" stroke-width="1"/>
<line x1="212.90" y1="722.90" x2="212.90" y2="728.20" stroke="#222" stroke-width="1"/>
<text x="212.90" y="742.60" font-size="9.8" stroke="#222" stroke-width="0.3" text-anchor="middle" fill="#222">14</text>
<text transform="translate(41.50,670.00) rotate(-90)" x="0" y="0" font-size="10.4" font-weight="bold" stroke="#161616" stroke-width="0.2" text-anchor="middle" fill="#161616" textLength="172.00" lengthAdjust="spacingAndGlyphs">Fold enrichment of RUNX1 peaks</text>
<text x="78.00" y="763.60" font-size="10.4" font-weight="bold" stroke="#161616" stroke-width="0.2" text-anchor="start" fill="#161616" textLength="136.50" lengthAdjust="spacingAndGlyphs">K27 ChIP–seq Occupancy</text>
<path d="M80.60 619.90 C81.27 621.43 82.98 625.42 84.60 629.10 C86.22 632.78 88.40 637.70 90.30 642.00 C92.20 646.30 94.10 650.62 96.00 654.90 C97.90 659.18 99.92 663.78 101.70 667.70 C103.48 671.62 105.03 675.07 106.70 678.40 C108.37 681.73 109.92 684.72 111.70 687.70 C113.48 690.68 115.50 693.68 117.40 696.30 C119.30 698.92 121.18 701.38 123.10 703.40 C125.02 705.42 126.75 706.97 128.90 708.40 C131.05 709.83 133.38 711.07 136.00 712.00 C138.62 712.93 141.37 713.57 144.60 714.00 C147.83 714.43 152.32 714.55 155.40 714.60 C158.48 714.65 159.77 714.55 163.10 714.30 C166.43 714.05 171.82 713.57 175.40 713.10 C178.98 712.63 181.53 711.98 184.60 711.50 C187.67 711.02 190.85 710.07 193.80 710.20 C196.75 710.33 199.08 710.75 202.30 712.30 C205.52 713.85 211.30 718.30 213.10 719.50" fill="none" stroke="#66cc11" stroke-width="2.8" stroke-linecap="round" stroke-linejoin="round"/>
<text x="302.30" y="579.70" font-size="13.5" font-weight="bold" stroke="#111" stroke-width="0.2" text-anchor="start" fill="#111" textLength="9.40" lengthAdjust="spacingAndGlyphs">H</text>
<text x="360.00" y="599.80" font-size="10.5" font-weight="bold" stroke="#161616" stroke-width="0.2" text-anchor="start" fill="#161616" textLength="150.60" lengthAdjust="spacingAndGlyphs">RUNX1 and K27 in K562+TPA</text>
<rect x="365.40" y="616.10" width="143.00" height="106.90" fill="none" stroke="#222" stroke-width="1.1"/>
<line x1="360.10" y1="631.20" x2="365.30" y2="631.20" stroke="#222" stroke-width="1"/>
<text transform="translate(352.70,631.20) rotate(-90)" x="0" y="0" font-size="9.8" stroke="#222" stroke-width="0.3" text-anchor="middle" fill="#222">1.0</text>
<line x1="360.10" y1="658.20" x2="365.30" y2="658.20" stroke="#222" stroke-width="1"/>
<text transform="translate(352.70,658.20) rotate(-90)" x="0" y="0" font-size="9.8" stroke="#222" stroke-width="0.3" text-anchor="middle" fill="#222">0.8</text>
<line x1="360.10" y1="685.40" x2="365.30" y2="685.40" stroke="#222" stroke-width="1"/>
<text transform="translate(352.70,685.40) rotate(-90)" x="0" y="0" font-size="9.8" stroke="#222" stroke-width="0.3" text-anchor="middle" fill="#222">0.6</text>
<line x1="360.10" y1="712.50" x2="365.30" y2="712.50" stroke="#222" stroke-width="1"/>
<text transform="translate(352.70,712.50) rotate(-90)" x="0" y="0" font-size="9.8" stroke="#222" stroke-width="0.3" text-anchor="middle" fill="#222">0.4</text>
<line x1="370.80" y1="722.90" x2="370.80" y2="728.20" stroke="#222" stroke-width="1"/>
<text x="370.80" y="742.60" font-size="9.8" stroke="#222" stroke-width="0.3" text-anchor="middle" fill="#222">0</text>
<line x1="389.70" y1="722.90" x2="389.70" y2="728.20" stroke="#222" stroke-width="1"/>
<text x="389.70" y="742.60" font-size="9.8" stroke="#222" stroke-width="0.3" text-anchor="middle" fill="#222">2</text>
<line x1="408.60" y1="722.90" x2="408.60" y2="728.20" stroke="#222" stroke-width="1"/>
<text x="408.60" y="742.60" font-size="9.8" stroke="#222" stroke-width="0.3" text-anchor="middle" fill="#222">4</text>
<line x1="427.50" y1="722.90" x2="427.50" y2="728.20" stroke="#222" stroke-width="1"/>
<text x="427.50" y="742.60" font-size="9.8" stroke="#222" stroke-width="0.3" text-anchor="middle" fill="#222">6</text>
<line x1="446.40" y1="722.90" x2="446.40" y2="728.20" stroke="#222" stroke-width="1"/>
<text x="446.40" y="742.60" font-size="9.8" stroke="#222" stroke-width="0.3" text-anchor="middle" fill="#222">8</text>
<line x1="465.30" y1="722.90" x2="465.30" y2="728.20" stroke="#222" stroke-width="1"/>
<text x="465.30" y="742.60" font-size="9.8" stroke="#222" stroke-width="0.3" text-anchor="middle" fill="#222">10</text>
<line x1="484.20" y1="722.90" x2="484.20" y2="728.20" stroke="#222" stroke-width="1"/>
<line x1="503.10" y1="722.90" x2="503.10" y2="728.20" stroke="#222" stroke-width="1"/>
<text x="503.10" y="742.60" font-size="9.8" stroke="#222" stroke-width="0.3" text-anchor="middle" fill="#222">14</text>
<text transform="translate(331.80,670.00) rotate(-90)" x="0" y="0" font-size="10.4" font-weight="bold" stroke="#161616" stroke-width="0.2" text-anchor="middle" fill="#161616" textLength="172.00" lengthAdjust="spacingAndGlyphs">Fold enrichment of RUNX1 peaks</text>
<text x="368.30" y="763.60" font-size="10.4" font-weight="bold" stroke="#161616" stroke-width="0.2" text-anchor="start" fill="#161616" textLength="136.20" lengthAdjust="spacingAndGlyphs">K27 ChIP–seq Occupancy</text>
<path d="M370.80 619.70 C371.37 621.12 372.87 624.87 374.20 628.20 C375.53 631.53 377.25 636.12 378.80 639.70 C380.35 643.28 381.70 646.12 383.50 649.70 C385.30 653.28 387.30 657.48 389.60 661.20 C391.90 664.92 394.73 668.92 397.30 672.00 C399.87 675.08 402.18 677.13 405.00 679.70 C407.82 682.27 410.62 684.58 414.20 687.40 C417.78 690.22 422.65 693.83 426.50 696.60 C430.35 699.37 433.67 701.58 437.30 704.00 C440.93 706.42 445.08 709.40 448.30 711.10 C451.52 712.80 453.83 713.42 456.60 714.20 C459.37 714.98 461.90 715.45 464.90 715.80 C467.90 716.15 471.37 716.10 474.60 716.30 C477.83 716.50 481.07 716.70 484.30 717.00 C487.53 717.30 490.88 717.70 494.00 718.10 C497.12 718.50 501.50 719.18 503.00 719.40" fill="none" stroke="#0a0aa8" stroke-width="2.8" stroke-linecap="round" stroke-linejoin="round"/>
</svg>
</body></html>
